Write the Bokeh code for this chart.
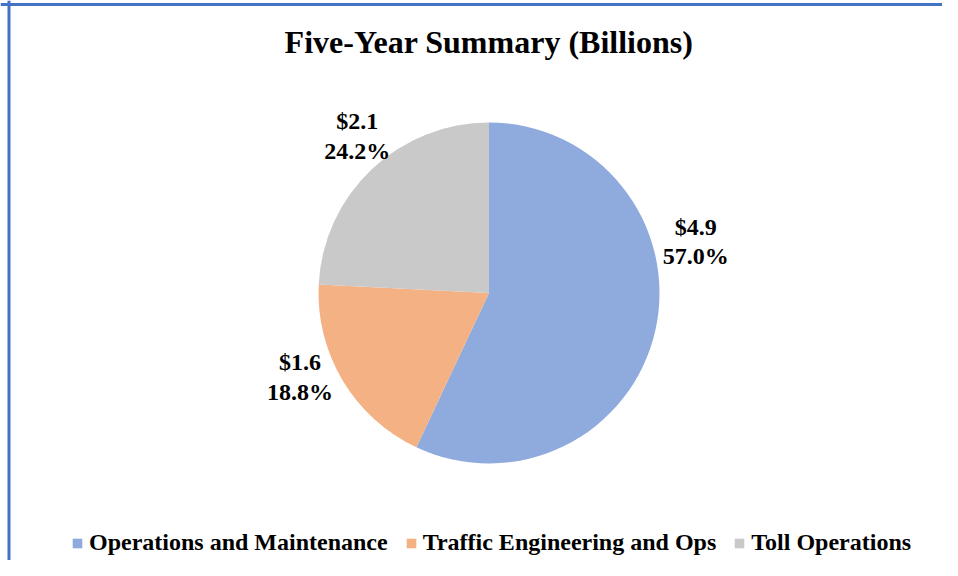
import math
from bokeh.plotting import figure
from bokeh.models import ColumnDataSource, Range1d, Span
from bokeh.core.properties import value
from bokeh.embed import file_html
from bokeh.resources import INLINE

# ---------------- data ----------------
title_text = "Five-Year Summary (Billions)"
categories = ["Operations and Maintenance", "Traffic Engineering and Ops", "Toll Operations"]
amounts = [4.9, 1.6, 2.1]          # billions of dollars
percents = [57.0, 18.8, 24.2]      # share of total, %
colors = ["#8FAADC", "#F4B183", "#C9C9C9"]

# ---------------- layout ----------------
W, H = 942, 560
PAGE_H = 576
FONT = "Liberation Serif"
CX, CY, R = 488.5, 292.5, 170.5          # pie centre / radius, screen pixels
label_angle_deg = [14, 204, 130]         # label direction from pie centre
label_dist = [213, 207, 205]             # label distance from pie centre (px)


def py(screen_y):
    return PAGE_H - screen_y


# wedge angles: start at 12 o'clock, go clockwise
starts, ends = [], []
acc = 0.0
for pc in percents:
    starts.append(math.radians(90 - acc * 3.6))
    acc += pc
    ends.append(math.radians(90 - acc * 3.6))

labels = [f"${a:.1f}\n{pc:.1f}%" for a, pc in zip(amounts, percents)]
lx = [CX + d * math.cos(math.radians(a)) for a, d in zip(label_angle_deg, label_dist)]
ly = [py(CY) + d * math.sin(math.radians(a)) for a, d in zip(label_angle_deg, label_dist)]

src = ColumnDataSource(dict(category=categories, start=starts, end=ends, color=colors,
                            label=labels, lx=lx, ly=ly))

p = figure(width=W, height=H, output_backend="svg", toolbar_location=None,
           x_range=Range1d(0, W), y_range=Range1d(PAGE_H - H, PAGE_H),
           x_axis_location=None, y_axis_location=None, min_border=0,
           outline_line_color=None, background_fill_color="white")
p.grid.visible = False

p.wedge(x=CX, y=py(CY), radius=R, radius_units="screen", start_angle="start",
        end_angle="end", direction="clock", fill_color="color", line_color=None,
        source=src, legend_field="category")

p.text(x="lx", y="ly", text="label", source=src, text_align="center",
       text_baseline="middle", text_font=value(FONT),
       text_font_style="bold", text_font_size="24px", text_color="black",
       text_line_height=1.15)

# title
p.text(x=[CX], y=[py(41)], text=[title_text], text_align="center",
       text_baseline="middle", text_font=value(FONT), text_font_style="bold",
       text_font_size="32px", text_color="black")

# chart-area border (left and top)
p.add_layout(Span(location=8.5, dimension="height", line_color="#4472C4", line_width=3))
p.add_layout(Span(location=py(4), dimension="width", line_color="#4472C4", line_width=3))

lg = p.legend[0]
lg.orientation = "horizontal"
lg.location = (71, 4)
lg.label_text_font = FONT
lg.label_text_font_style = "bold"
lg.label_text_font_size = "24px"
lg.label_text_color = "black"
lg.glyph_width = 12
lg.glyph_height = 12
lg.label_standoff = 6
lg.spacing = 17
lg.padding = 0
lg.margin = 0
lg.border_line_color = None
lg.background_fill_alpha = 0

open("out.html", "w").write(file_html(p, INLINE))
